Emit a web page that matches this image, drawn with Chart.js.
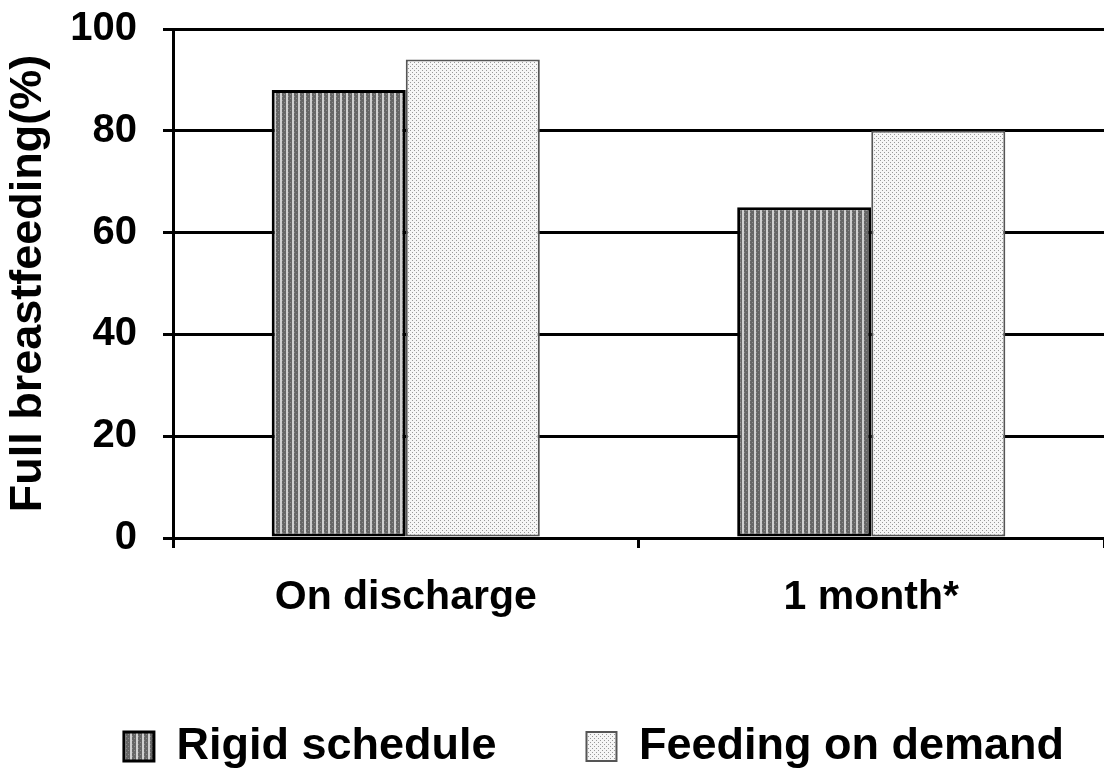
<!DOCTYPE html>
<html>
<head>
<meta charset="utf-8">
<script src="https://cdn.jsdelivr.net/npm/chart.js@4"></script>
<style>
  body { margin: 0; background: #fff; }
  #wrap { width: 1104px; height: 774px; }
</style>
</head>
<body>
<div id="wrap"><canvas id="myChart" width="1104" height="774"></canvas></div>
<script>
// Chart data
const categories = ["On discharge", "1 month*"];
const rigidSchedule = [88, 65];
const feedingOnDemand = [94, 80];
const yTicks = [0, 20, 40, 60, 80, 100];

// Vertical stripe fill for the rigid schedule bars
function stripePattern() {
    const c = document.createElement('canvas');
    c.width = 6; c.height = 4;
    const g = c.getContext('2d');
    g.fillStyle = '#666';
    g.fillRect(0, 0, 6, 4);
    g.fillStyle = '#8c8c8c';
    g.fillRect(0, 0, 1, 1); g.fillRect(2, 2, 1, 1);
    g.fillStyle = '#d0d0d0';
    g.fillRect(4, 0, 2, 4);
    return g.createPattern(c, 'repeat');
}

// Light dotted fill for the feeding on demand bars
function dotPattern() {
    const c = document.createElement('canvas');
    c.width = 4; c.height = 4;
    const g = c.getContext('2d');
    g.fillStyle = '#f6f6f6';
    g.fillRect(0, 0, 4, 4);
    g.fillStyle = '#999';
    g.fillRect(0, 0, 1, 1);
    g.fillRect(2, 2, 1, 1);
    return g.createPattern(c, 'repeat');
}

const font = "'Liberation Sans', Arial, sans-serif";

new Chart(document.getElementById("myChart"), {
    type: "bar",
    data: {
        labels: categories,
        datasets: [{
            label: "Rigid schedule",
            data: rigidSchedule,
            backgroundColor: stripePattern(),
            borderColor: "#000",
            borderWidth: 3,
            borderSkipped: false
        }, {
            label: "Feeding on demand",
            data: feedingOnDemand,
            backgroundColor: dotPattern(),
            borderColor: "#555",
            borderWidth: 2,
            borderSkipped: false
        }]
    },
    options: {
        responsive: false,
        animation: false,
        layout: { padding: { top: 0, right: 0, bottom: -5, left: 0 } },
        datasets: { bar: { categoryPercentage: 0.576, barPercentage: 1 } },
        plugins: {
            tooltip: { enabled: false },
            legend: {
                position: "bottom",
                align: "end",
                labels: {
                    color: "#000",
                    font: { family: font, size: 45, weight: "bold" },
                    boxWidth: 30,
                    boxHeight: 29,
                    padding: 40,
                    // trailing spaces widen the gap between the two items
                    generateLabels: (chart) => {
                        const items = Chart.defaults.plugins.legend.labels.generateLabels(chart);
                        items[0].text += "    ";
                        return items;
                    }
                }
            }
        },
        scales: {
            x: {
                grid: { drawOnChartArea: false, drawTicks: true, tickLength: 10, color: "#000", lineWidth: 3 },
                border: { color: "#000", width: 3 },
                ticks: { color: "#000", padding: 25, font: { family: font, size: 41, weight: "bold" } },
                afterFit: (scale) => {
                    scale.height = 146;
                    scale.paddingLeft = 0;
                    scale.paddingRight = 0;
                }
            },
            y: {
                min: 0,
                max: 100,
                afterBuildTicks: (axis) => { axis.ticks = yTicks.map(v => ({ value: v })); },
                grid: { color: "#000", lineWidth: 3, tickLength: 10 },
                border: { color: "#000", width: 3 },
                ticks: { color: "#000", padding: 26, font: { family: font, size: 40, weight: "bold" } },
                title: {
                    display: true,
                    text: "Full breastfeeding(%)",
                    color: "#000",
                    padding: 2,
                    font: { family: font, size: 45, weight: "bold" }
                },
                afterFit: (scale) => {
                    scale.width = 173;
                    scale.paddingTop = 29;
                    scale.paddingBottom = 0;
                }
            }
        }
    }
});
</script>
</body>
</html>
